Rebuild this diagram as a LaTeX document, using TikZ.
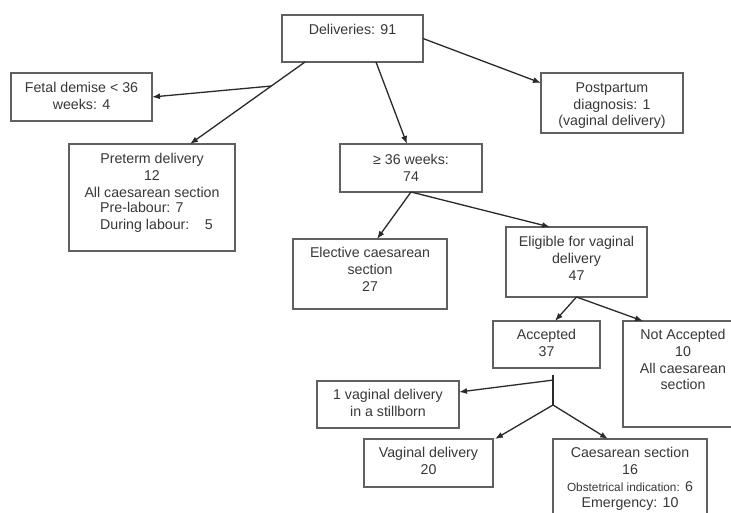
\documentclass[tikz,border=0pt]{standalone}
\usepackage{fontspec}
\setmainfont{Liberation Sans}
\usetikzlibrary{calc,arrows.meta}
\definecolor{boxline}{HTML}{606060}
\definecolor{txtcol}{HTML}{383838}
\definecolor{arrcol}{HTML}{2A2A2A}
\begin{document}
\begin{tikzpicture}[x=1pt,y=-1pt,
  box/.style={draw=boxline,line width=1.3pt,inner sep=0pt,outer sep=0pt,rectangle},
  txt/.style={anchor=north,inner sep=0pt,align=center,text=txtcol,font=\fontsize{14.2}{16.6}\selectfont},
  conn/.style={draw=arrcol,line width=1.3pt,-{Latex[length=8pt,width=6pt]}},
  plain/.style={draw=arrcol,line width=1.1pt}]
\clip (0,0) rectangle (731,513);
\fill[white] (0,0) rectangle (731,513);
% boxes
\node[box,minimum width=141pt,minimum height=47pt] (del) at (352.5,38.5) {};
\node[box,minimum width=141pt,minimum height=48pt] (fetal) at (81.5,97) {};
\node[box,minimum width=142pt,minimum height=60pt] (post) at (612,103) {};
\node[box,minimum width=166pt,minimum height=107pt] (pre) at (152,197.5) {};
\node[box,minimum width=142pt,minimum height=48pt] (w36) at (411,168) {};
\node[box,minimum width=154pt,minimum height=70pt] (elec) at (370,274) {};
\node[box,minimum width=141pt,minimum height=70pt] (elig) at (576.5,262) {};
\node[box,minimum width=107pt,minimum height=47pt] (acc) at (546.5,344.5) {};
\node[box,minimum width=120pt,minimum height=106pt] (nacc) at (683,374) {};
\node[box,minimum width=142pt,minimum height=47pt] (still) at (388,404.5) {};
\node[box,minimum width=129pt,minimum height=48pt] (vag) at (428.5,463) {};
\node[box,minimum width=154pt,minimum height=91pt] (cs) at (630,484.5) {};
% texts
\node[txt] (tdel) at ($(del.north)+(0,9)$) {Deliveries: 91};
\node[txt] (tfetal) at ($(fetal.north)+(0,9.5)$) {Fetal demise < 36\\weeks: 4};
\node[txt] (tpost) at ($(post.north)+(0,9.5)$) {Postpartum\\diagnosis: 1\\(vaginal delivery)};
\node[txt] (tpre) at ($(pre.north)+(0,9.5)$) {Preterm delivery\\12\\All caesarean section};
\node[txt,anchor=north west,align=left] (tpre2) at ($(pre.north west)+(31,58.5)$) {Pre-labour: 7\\During labour:\hspace{1.1em}5};
\node[txt] (tw36) at ($(w36.north)+(0,10)$) {≥ 36 weeks:\\74};
\node[txt] (telec) at ($(elec.north)+(0,8.5)$) {Elective caesarean\\section\\27};
\node[txt] (telig) at ($(elig.north)+(0,9.5)$) {Eligible for vaginal\\delivery\\47};
\node[txt] (tacc) at ($(acc.north)+(0,8.5)$) {Accepted\\37};
\node[txt] (tnacc) at ($(nacc.north)+(0,8.5)$) {Not Accepted\\10\\All caesarean\\section};
\node[txt] (tstill) at ($(still.north)+(0,8.5)$) {1 vaginal delivery\\in a stillborn};
\node[txt] (tvag) at ($(vag.north)+(0,8.5)$) {Vaginal delivery\\20};
\node[txt] (tcs) at ($(cs.north)+(0,8.5)$) {Caesarean section\\16\\{\fontsize{11.8}{16.6}\selectfont Obstetrical indication:} 6\\Emergency: 10};
% connector points
\coordinate (d1) at ($(del.south)+(-47.5,0)$);
\coordinate (p1) at ($(pre.north)+(38,0)$);
\coordinate (j1) at ($(d1)!0.293!(p1)$);
\coordinate (j2) at ($(acc.south)+(6.5,7)$);
\coordinate (j3) at ($(acc.south)+(6.5,37)$);
\coordinate (j4) at ($(j2)!0.17!(j3)$);
% connectors
\draw[conn] (d1) -- (p1);
\draw[conn] (j1) -- (fetal.east);
\draw[conn] ($(del.south)+(23.5,0)$) -- ($(w36.north)+(-4,0)$);
\draw[conn] (del.east) -- ($(post.north west)+(0,10)$);
\draw[conn] (w36.south) -- ($(elec.north)+(7,0)$);
\draw[conn] (w36.south) -- ($(elig.north)+(-26.5,0)$);
\draw[conn] (elig.south) -- ($(acc.north)+(8.5,0)$);
\draw[conn] (elig.south) -- ($(nacc.north west)+(20,0)$);
\draw[plain] (j2) -- (j3);
\draw[conn] (j4) -- ($(still.north east)+(0,11)$);
\draw[conn] (j3) -- ($(vag.north east)+(2,0)$);
\draw[conn] (j3) -- ($(cs.north west)+(55,0)$);
\end{tikzpicture}
\end{document}
